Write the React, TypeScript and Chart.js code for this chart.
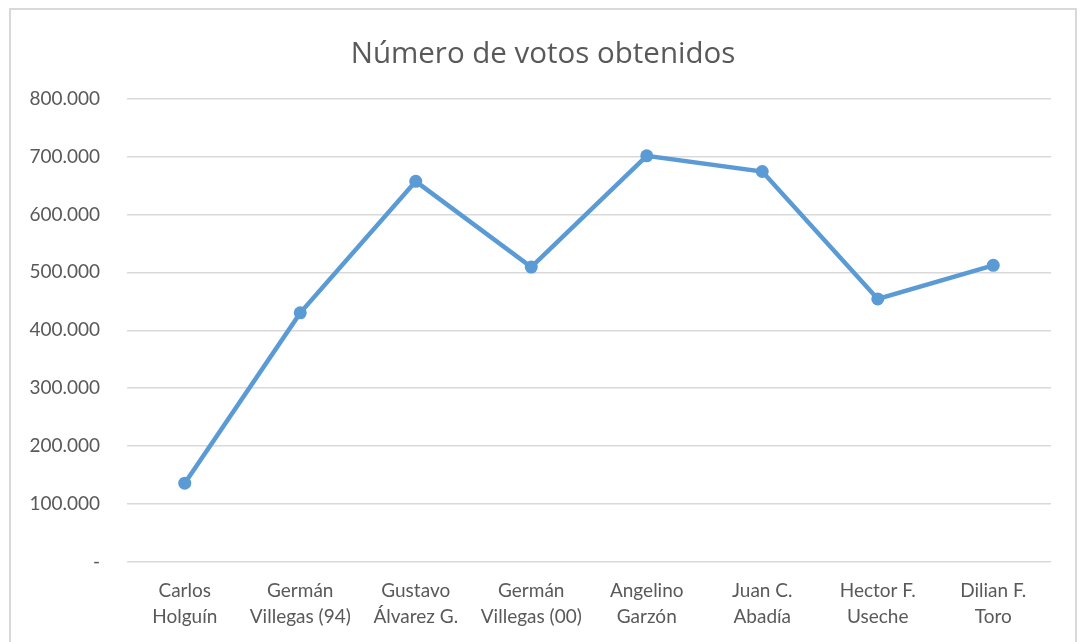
import React, { useEffect, useRef } from "react";
import { Chart, registerables } from "chart.js";

Chart.register(...registerables);

const categories: string[][] = [
  ["Carlos", "Holguín"],
  ["Germán", "Villegas (94)"],
  ["Gustavo", "Álvarez G."],
  ["Germán", "Villegas (00)"],
  ["Angelino", "Garzón"],
  ["Juan C.", "Abadía"],
  ["Hector F.", "Useche"],
  ["Dilian F.", "Toro"],
];
const votes: number[] = [136000, 430000, 657000, 509000, 701000, 674000, 454000, 512000];
const titleText = "Número de votos obtenidos";
const yMax = 800000;
const yStep = 100000;

const fmt = (v: number) =>
  v === 0 ? "-" : String(Math.round(v)).replace(/\B(?=(\d{3})+(?!\d))/g, ".");

const textColor = "#595959";

export default function App() {
  const ref = useRef<HTMLCanvasElement | null>(null);
  useEffect(() => {
    if (!ref.current) return;
    const chart = new Chart(ref.current, {
      type: "line",
      data: {
        labels: categories,
        datasets: [
          {
            data: votes,
            borderColor: "#5B9BD5",
            backgroundColor: "#5B9BD5",
            borderWidth: 4.5,
            pointRadius: 6.5,
            pointBorderWidth: 0,
            pointBackgroundColor: "#5B9BD5",
            tension: 0,
            fill: false,
          },
        ],
      },
      options: {
        responsive: false,
        animation: false,
        layout: { padding: { left: 10, right: 30, top: 98.5, bottom: 0 } },
        plugins: {
          legend: { display: false },
          tooltip: { enabled: false },
          title: { display: false },
        },
        scales: {
          x: {
            type: "category",
            offset: true,
            grid: { display: false, drawTicks: false },
            border: { display: false },
            ticks: {
              color: textColor,
              font: { family: "Lato", size: 19, lineHeight: 1.37 },
              padding: 16,
              maxRotation: 0,
              autoSkip: false,
            },
            afterFit: (s: any) => {
              s.height = 80;
            },
          },
          y: {
            min: 0,
            max: yMax,
            grid: { color: "#d9d9d9", lineWidth: 1.5, drawTicks: false },
            border: { display: false },
            ticks: {
              stepSize: yStep,
              color: textColor,
              font: { family: "Lato", size: 19 },
              padding: 27,
              callback: (v: any) => fmt(Number(v)),
            },
            afterFit: (s: any) => {
              s.width = 117;
            },
          },
        },
      },
    });
    return () => chart.destroy();
  }, []);

  return (
    <div style={{ position: "fixed", left: 0, top: 0, width: 1081, height: 642, background: "#fff", overflow: "hidden" }}>
      <div
        style={{
          position: "absolute",
          left: 9,
          top: 8,
          width: 1068,
          height: 700,
          border: "2px solid #d9d9d9",
          boxSizing: "border-box",
        }}
      />
      <canvas ref={ref} width={1081} height={642} style={{ position: "absolute", left: 0, top: 0 }} />
      <div
        style={{
          position: "absolute",
          left: 9,
          top: 34,
          width: 1068,
          textAlign: "center",
          fontFamily: "'Open Sans'",
          fontSize: 29.5,
          lineHeight: "35.4px",
          color: textColor,
          whiteSpace: "nowrap",
        }}
      >
        {titleText}
      </div>
    </div>
  );
}
